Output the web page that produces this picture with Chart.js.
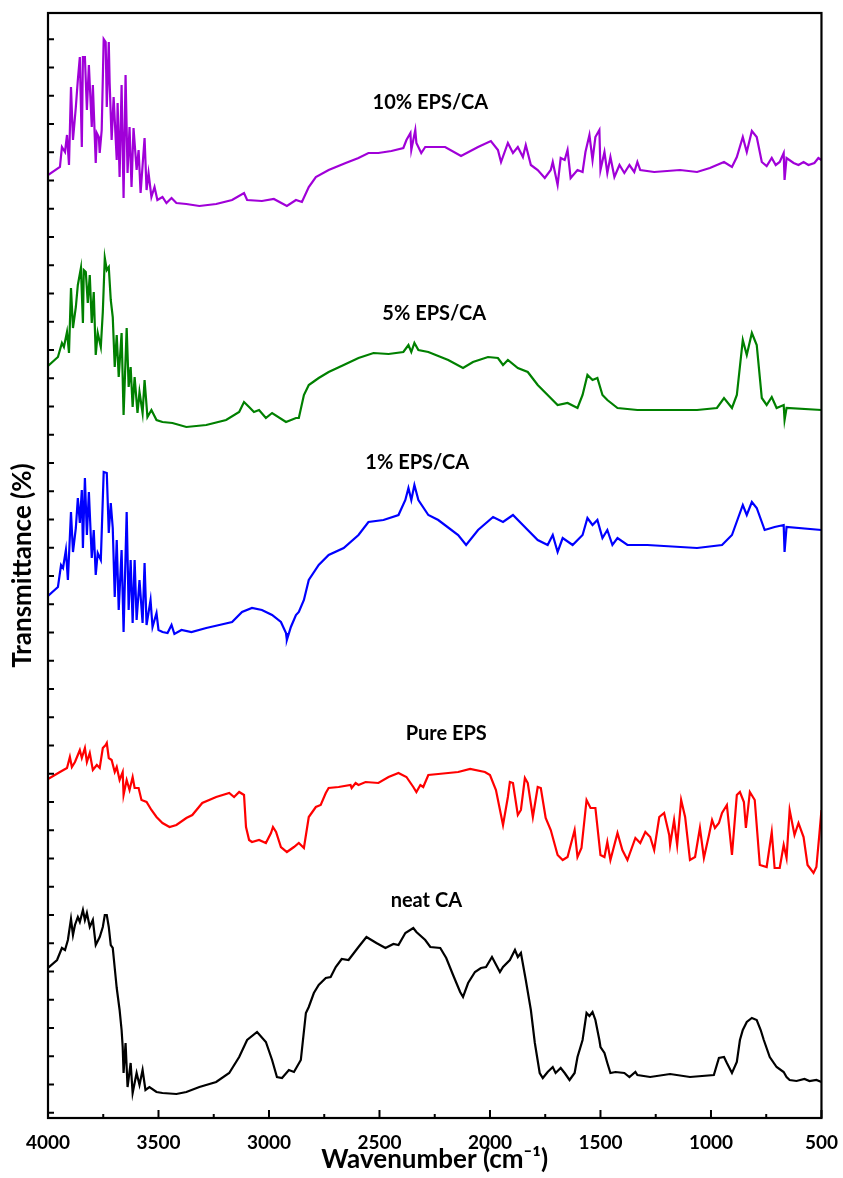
<!DOCTYPE html>
<html>
<head>
<meta charset="utf-8">
<script src="https://cdn.jsdelivr.net/npm/chart.js@4.4.0/dist/chart.umd.min.js"></script>
<style>
  html, body { margin: 0; padding: 0; background: #fff; }
  #wrap { width: 843px; height: 1178px; position: relative; }
</style>
</head>
<body>
<div id="wrap"><canvas id="ftirChart"></canvas></div>
<script>
// FTIR spectra, wavenumber (cm-1) against offset transmittance

// 10% EPS/CA
const wn10 = [4000, 3946, 3937, 3923, 3914, 3905, 3896, 3887, 3874, 3865, 3856, 3847, 3842, 3833, 3824, 3815, 3802, 3797, 3784, 3779,
  3770, 3766, 3757, 3748, 3739, 3734, 3725, 3721, 3712, 3703, 3689, 3685, 3676, 3667, 3658, 3649, 3640, 3631, 3622, 3613,
  3599, 3590, 3581, 3563, 3554, 3545, 3532, 3518, 3505, 3482, 3464, 3441, 3419, 3374, 3315, 3239, 3167, 3113, 3099, 3032,
  2978, 2919, 2878, 2851, 2820, 2788, 2730, 2653, 2595, 2550, 2505, 2446, 2392, 2378, 2360, 2356, 2338, 2333, 2311, 2293,
  2203, 2131, 2054, 1996, 1964, 1950, 1919, 1896, 1874, 1851, 1838, 1815, 1784, 1752, 1725, 1716, 1694, 1680, 1662, 1649,
  1635, 1604, 1581, 1568, 1550, 1536, 1523, 1505, 1500, 1482, 1469, 1455, 1437, 1414, 1392, 1369, 1347, 1333, 1320, 1257,
  1140, 1063, 1005, 941, 905, 883, 856, 838, 815, 793, 770, 748, 725, 707, 689, 671, 667, 658, 626, 604,
  581, 559, 532, 514, 500];
const t10 = [94.3, 95.1, 97.1, 96.6, 98.3, 95.3, 103.1, 97.8, 101.1, 103.8, 106.1, 97.1, 106.1, 106.1, 100.8, 105.3, 99.1, 103.3, 95.5, 98.5,
  98.1, 96.5, 98.8, 107.9, 107.6, 101.1, 107.6, 103.5, 97.8, 102.1, 95.8, 101.5, 94.1, 103.3, 92.0, 104.3, 94.5, 99.1, 93.1, 99.0,
  94.8, 96.8, 92.5, 98.0, 92.8, 94.5, 92.1, 93.1, 91.8, 92.1, 91.5, 92.0, 91.5, 91.4, 91.2, 91.4, 91.8, 92.5, 91.8, 91.7,
  91.9, 91.2, 91.8, 91.6, 93.1, 94.1, 94.8, 95.5, 96.0, 96.5, 96.5, 96.7, 97.0, 97.8, 98.5, 96.8, 98.8, 97.5, 96.5, 97.1,
  97.1, 96.2, 97.1, 97.7, 96.8, 95.6, 97.5, 96.5, 97.1, 96.1, 97.3, 95.3, 94.8, 94.0, 94.8, 95.6, 93.3, 96.0, 95.8, 96.8,
  94.0, 94.8, 94.6, 96.6, 98.3, 95.8, 98.1, 98.8, 94.8, 96.6, 94.5, 96.1, 94.1, 95.3, 94.5, 95.3, 94.6, 95.6, 94.8, 94.6,
  94.8, 94.6, 95.0, 95.6, 95.1, 96.1, 98.1, 96.6, 98.7, 98.1, 95.6, 95.2, 96.0, 95.3, 95.6, 96.5, 93.8, 96.0, 95.5, 95.3,
  95.6, 95.3, 95.5, 96.0, 95.8];

// 5% EPS/CA
const wn5 = [4000, 3955, 3937, 3928, 3914, 3905, 3896, 3887, 3874, 3865, 3851, 3842, 3838, 3829, 3820, 3811, 3802, 3793, 3784, 3775,
  3761, 3752, 3743, 3734, 3725, 3716, 3707, 3698, 3689, 3680, 3667, 3658, 3644, 3635, 3626, 3617, 3608, 3595, 3586, 3572,
  3563, 3550, 3532, 3509, 3482, 3437, 3374, 3284, 3194, 3135, 3113, 3090, 3068, 3045, 3014, 2986, 2923, 2878, 2865, 2842,
  2820, 2775, 2730, 2662, 2595, 2527, 2459, 2392, 2369, 2356, 2342, 2324, 2279, 2189, 2122, 2077, 2009, 1964, 1941, 1919,
  1874, 1829, 1784, 1739, 1694, 1649, 1604, 1581, 1559, 1536, 1514, 1491, 1469, 1423, 1333, 1063, 973, 941, 905, 883,
  856, 838, 815, 793, 770, 748, 725, 703, 671, 667, 658, 500];
const t5 = [75.2, 76.1, 77.5, 77.1, 78.6, 76.5, 83.0, 79.0, 81.1, 83.3, 85.0, 79.5, 84.8, 84.6, 81.5, 84.3, 79.5, 82.6, 76.3, 78.5,
  77.1, 80.6, 86.0, 84.8, 85.1, 81.8, 80.1, 75.1, 78.3, 74.1, 78.5, 70.3, 79.0, 73.1, 75.1, 71.1, 74.1, 70.5, 72.6, 70.5,
  73.8, 70.1, 70.8, 69.8, 69.6, 69.5, 69.1, 69.3, 69.8, 70.6, 71.6, 71.1, 70.6, 70.8, 70.0, 70.5, 69.6, 70.0, 70.0, 72.3,
  73.3, 74.0, 74.6, 75.3, 76.0, 76.5, 76.4, 76.6, 77.3, 76.6, 77.5, 76.8, 76.6, 75.8, 75.0, 75.6, 76.1, 76.0, 75.3, 75.8,
  75.0, 74.6, 73.3, 72.3, 71.3, 71.5, 71.0, 72.3, 74.3, 73.8, 74.0, 72.3, 71.8, 71.0, 70.8, 70.8, 71.0, 72.0, 71.0, 72.3,
  77.8, 76.3, 78.5, 77.3, 72.0, 71.3, 72.1, 71.0, 71.3, 69.8, 71.0, 70.8];

// 1% EPS/CA
const wn1 = [4000, 3955, 3941, 3932, 3919, 3910, 3896, 3887, 3874, 3865, 3856, 3847, 3842, 3833, 3824, 3815, 3802, 3793, 3784, 3775,
  3761, 3748, 3734, 3725, 3716, 3707, 3698, 3689, 3680, 3667, 3658, 3644, 3635, 3626, 3617, 3608, 3599, 3586, 3572, 3563,
  3554, 3536, 3527, 3509, 3500, 3482, 3459, 3441, 3428, 3396, 3351, 3284, 3225, 3167, 3122, 3077, 3032, 2986, 2946, 2923,
  2919, 2901, 2878, 2865, 2842, 2820, 2775, 2730, 2662, 2595, 2550, 2482, 2414, 2383, 2369, 2356, 2342, 2324, 2279, 2234,
  2144, 2108, 2054, 1986, 1941, 1896, 1829, 1784, 1739, 1716, 1694, 1671, 1626, 1581, 1559, 1536, 1514, 1491, 1469, 1446,
  1423, 1378, 1288, 1063, 950, 905, 856, 838, 815, 793, 757, 712, 671, 667, 658, 500];
const t1 = [52.2, 53.1, 55.3, 55.0, 56.8, 53.8, 60.6, 56.6, 59.0, 62.0, 59.5, 62.8, 57.0, 64.0, 58.3, 62.6, 56.0, 58.8, 54.3, 56.5,
  55.8, 64.6, 64.5, 58.5, 61.5, 59.0, 52.1, 57.8, 50.8, 56.8, 48.6, 60.6, 50.8, 55.8, 49.5, 55.8, 49.8, 53.8, 49.5, 55.5,
  49.3, 51.8, 49.1, 50.5, 48.8, 48.6, 48.5, 49.3, 48.4, 48.8, 48.6, 49.0, 49.3, 49.6, 50.6, 51.0, 50.8, 50.3, 49.6, 48.5,
  47.8, 49.1, 50.3, 50.6, 51.8, 53.8, 55.3, 56.3, 57.0, 58.3, 59.6, 59.8, 60.3, 61.8, 63.0, 61.8, 63.3, 61.8, 60.3, 59.8,
  58.3, 57.3, 58.8, 60.1, 59.6, 60.3, 58.8, 57.8, 57.3, 58.3, 56.6, 58.0, 57.3, 58.3, 60.0, 59.3, 59.8, 58.0, 58.8, 57.3,
  58.0, 57.3, 57.3, 57.0, 57.3, 58.3, 61.3, 60.3, 61.6, 61.0, 58.8, 59.1, 59.3, 56.6, 59.1, 58.8];

// Pure EPS
const wnEps = [4000, 3946, 3914, 3901, 3892, 3878, 3865, 3856, 3847, 3833, 3824, 3811, 3797, 3779, 3766, 3752, 3739, 3734, 3725, 3712,
  3698, 3689, 3676, 3662, 3658, 3644, 3631, 3617, 3608, 3590, 3577, 3554, 3532, 3509, 3482, 3450, 3419, 3374, 3347, 3302,
  3239, 3180, 3158, 3135, 3113, 3104, 3090, 3077, 3045, 3014, 2991, 2982, 2968, 2946, 2919, 2887, 2865, 2842, 2820, 2788,
  2766, 2743, 2730, 2685, 2631, 2626, 2608, 2595, 2563, 2505, 2459, 2414, 2378, 2347, 2333, 2315, 2302, 2279, 2234, 2189,
  2144, 2090, 2023, 2000, 1973, 1941, 1919, 1910, 1896, 1874, 1860, 1842, 1829, 1806, 1784, 1770, 1748, 1725, 1694, 1671,
  1649, 1617, 1604, 1586, 1563, 1545, 1523, 1500, 1482, 1469, 1455, 1423, 1401, 1378, 1342, 1320, 1297, 1275, 1257, 1234,
  1212, 1189, 1185, 1167, 1153, 1135, 1117, 1095, 1072, 1050, 1032, 1009, 995, 982, 964, 950, 928, 905, 883, 869,
  851, 842, 824, 802, 779, 748, 725, 712, 689, 671, 658, 644, 622, 604, 581, 563, 536, 523, 509, 500];
const tEps = [33.9, 34.6, 35.0, 36.1, 35.1, 35.6, 36.3, 36.8, 36.0, 37.0, 35.6, 36.5, 34.8, 35.3, 35.0, 37.0, 37.3, 37.5, 36.0, 35.8,
  34.6, 35.1, 33.8, 34.6, 32.3, 33.8, 32.8, 34.1, 33.0, 33.0, 31.8, 31.6, 30.8, 30.1, 29.5, 29.1, 29.3, 30.0, 30.3, 31.5,
  32.1, 32.5, 32.1, 32.6, 32.3, 29.1, 27.8, 27.6, 27.8, 27.5, 28.5, 29.1, 28.6, 27.1, 26.6, 27.1, 27.5, 27.0, 30.1, 31.1,
  31.3, 32.5, 33.0, 33.1, 33.3, 33.0, 33.5, 33.3, 33.6, 33.5, 34.1, 34.5, 34.1, 33.1, 32.6, 33.3, 33.1, 34.3, 34.4, 34.5,
  34.6, 34.9, 34.6, 34.3, 32.8, 29.3, 32.1, 33.6, 33.5, 30.3, 30.8, 34.0, 33.5, 30.1, 33.1, 33.0, 30.0, 28.8, 26.3, 25.8,
  26.1, 28.8, 26.1, 27.0, 31.8, 31.0, 31.0, 26.3, 26.1, 27.6, 25.8, 28.5, 26.8, 25.8, 28.0, 27.5, 28.6, 28.1, 26.8, 30.1,
  30.5, 28.3, 27.3, 29.8, 27.3, 31.8, 30.1, 25.8, 26.1, 29.0, 26.0, 28.3, 29.8, 29.0, 29.5, 30.5, 31.3, 26.3, 32.3, 32.6,
  31.6, 29.0, 32.6, 31.8, 25.3, 25.1, 28.6, 25.0, 25.0, 27.3, 26.0, 30.8, 28.3, 29.5, 28.1, 25.3, 24.5, 25.1, 28.5, 30.8];

// neat CA
const wnCa = [4000, 3959, 3937, 3923, 3910, 3896, 3887, 3878, 3865, 3856, 3842, 3833, 3824, 3811, 3797, 3784, 3766, 3752, 3743, 3734,
  3725, 3716, 3707, 3694, 3689, 3676, 3667, 3662, 3658, 3649, 3640, 3626, 3617, 3599, 3586, 3572, 3559, 3541, 3509, 3482,
  3419, 3374, 3315, 3239, 3180, 3135, 3099, 3054, 3014, 2986, 2964, 2941, 2910, 2887, 2856, 2833, 2820, 2797, 2775, 2743,
  2721, 2698, 2671, 2640, 2595, 2559, 2514, 2473, 2437, 2414, 2383, 2347, 2333, 2293, 2270, 2225, 2198, 2167, 2135, 2122,
  2099, 2068, 2041, 2018, 1991, 1955, 1941, 1910, 1887, 1874, 1860, 1838, 1815, 1797, 1775, 1761, 1739, 1716, 1703, 1680,
  1662, 1640, 1617, 1604, 1581, 1563, 1550, 1536, 1523, 1505, 1500, 1482, 1469, 1455, 1432, 1392, 1369, 1342, 1333, 1275,
  1185, 1095, 987, 964, 941, 928, 905, 883, 869, 856, 838, 815, 793, 775, 761, 734, 703, 671, 658, 644,
  613, 577, 554, 523, 500];
const tCa = [15.0, 15.8, 17.0, 16.8, 17.8, 19.9, 18.3, 19.3, 20.1, 19.6, 20.8, 19.8, 20.5, 19.1, 19.8, 17.3, 18.1, 19.1, 20.3, 20.3,
  19.1, 17.3, 17.0, 14.1, 13.0, 10.8, 8.8, 7.1, 4.5, 7.5, 3.1, 5.5, 2.5, 4.5, 3.3, 4.8, 2.8, 3.1, 2.6, 2.5,
  2.4, 2.6, 3.1, 3.6, 4.5, 6.1, 7.8, 8.6, 7.6, 5.8, 4.1, 4.0, 4.8, 4.6, 5.8, 10.5, 11.1, 12.5, 13.3, 14.0,
  14.1, 15.1, 15.9, 15.8, 17.1, 18.1, 17.5, 17.0, 17.4, 17.3, 18.5, 19.0, 18.6, 17.8, 17.1, 17.0, 16.0, 14.3, 12.6, 12.1,
  13.5, 14.6, 15.0, 15.1, 16.1, 14.6, 15.1, 15.8, 16.8, 16.1, 16.5, 13.8, 10.8, 7.5, 4.5, 4.0, 4.6, 5.1, 4.5, 5.0,
  4.5, 3.8, 4.5, 6.1, 7.8, 10.5, 10.2, 10.6, 9.8, 7.8, 7.1, 6.5, 5.5, 4.5, 4.6, 4.5, 4.1, 4.6, 4.3, 4.1,
  4.4, 4.1, 4.3, 6.0, 6.1, 5.5, 4.5, 5.6, 7.8, 8.8, 9.6, 10.0, 9.8, 8.8, 7.8, 6.1, 5.1, 4.6, 4.1, 3.8,
  3.7, 3.9, 3.7, 3.8, 3.6];

// axis ticks (no tick labels on the y axis)
const xTickLabels = [4000, 3500, 3000, 2500, 2000, 1500, 1000, 500];
const xMinorTicks = [3750, 3250, 2750, 2250, 1750, 1250, 750];
const yTickStart = 0.53, yTickStep = 2.825, yTickCount = 39;

// curve labels
const traceNames = ['10% EPS/CA', '5% EPS/CA', '1% EPS/CA', 'Pure EPS', 'neat CA'];
const traceColors = ['#a000d8', '#008000', '#0000ff', '#ff0000', '#000000'];
const labelWn = [2270, 2252, 2329, 2198, 2288];
const labelT = [101.5, 80.4, 65.5, 38.4, 21.7];

const spectra = [[wn10, t10], [wn5, t5], [wn1, t1], [wnEps, tEps], [wnCa, tCa]];

function toPoints(xs, ys) {
  return xs.map((x, i) => ({ x: x, y: ys[i] }));
}

const yTicks = [];
for (let k = 0; k < yTickCount; k++) yTicks.push(yTickStart + k * yTickStep);

const boxAndTicks = {
  id: 'boxAndTicks',
  afterDatasetsDraw(chart) {
    const { ctx, chartArea: a, scales: { x, y } } = chart;
    ctx.save();
    ctx.strokeStyle = '#000';
    ctx.lineWidth = 2;
    ctx.beginPath();
    xTickLabels.forEach(v => {
      const px = x.getPixelForValue(v);
      ctx.moveTo(px, a.bottom);
      ctx.lineTo(px, a.bottom - 8);
    });
    xMinorTicks.forEach(v => {
      const px = x.getPixelForValue(v);
      ctx.moveTo(px, a.bottom);
      ctx.lineTo(px, a.bottom - 4);
    });
    yTicks.forEach(v => {
      const py = y.getPixelForValue(v);
      ctx.moveTo(a.left, py);
      ctx.lineTo(a.left + 6, py);
    });
    ctx.stroke();
    ctx.lineWidth = 2.2;
    ctx.strokeRect(a.left, a.top, a.width, a.height);

    ctx.fillStyle = '#000';
    ctx.font = 'bold 20px Lato';
    ctx.textAlign = 'center';
    ctx.textBaseline = 'middle';
    traceNames.forEach((name, i) => {
      ctx.fillText(name, x.getPixelForValue(labelWn[i]), y.getPixelForValue(labelT[i]));
    });
    ctx.restore();
  }
};

new Chart(document.getElementById('ftirChart'), {
  type: 'line',
  data: {
    datasets: spectra.map((s, i) => ({
      label: traceNames[i],
      data: toPoints(s[0], s[1]),
      borderColor: traceColors[i],
      borderWidth: 2.2,
      pointRadius: 0,
      tension: 0,
      fill: false
    }))
  },
  options: {
    responsive: true,
    maintainAspectRatio: false,
    animation: false,
    devicePixelRatio: 1,
    layout: { padding: { left: 0, right: 18, top: 13, bottom: 0 } },
    plugins: {
      legend: { display: false },
      tooltip: { enabled: false }
    },
    scales: {
      x: {
        type: 'linear',
        reverse: true,
        min: 500,
        max: 4000,
        afterBuildTicks: (scale) => { scale.ticks = xTickLabels.map(v => ({ value: v })); },
        ticks: {
          autoSkip: false,
          maxRotation: 0,
          padding: 5,
          color: '#000',
          font: { family: 'Lato', size: 19, weight: 'bold' },
          callback: (v) => String(v)
        },
        grid: { display: false },
        border: { display: false },
        title: {
          display: true,
          text: 'Wavenumber (cm⁻¹)',
          color: '#000',
          font: { family: 'Lato', size: 26, weight: 'bold' },
          padding: { top: 0, bottom: 3 }
        },
        afterFit: (scale) => { scale.height = 60; }
      },
      y: {
        min: 0,
        max: 110.5,
        ticks: { display: false },
        grid: { display: false },
        border: { display: false },
        title: {
          display: true,
          text: 'Transmittance (%)',
          color: '#000',
          font: { family: 'Lato', size: 26, weight: 'bold' },
          padding: { top: 7, bottom: 0 }
        },
        afterFit: (scale) => { scale.width = 48; }
      }
    }
  },
  plugins: [boxAndTicks]
});
</script>
</body>
</html>
